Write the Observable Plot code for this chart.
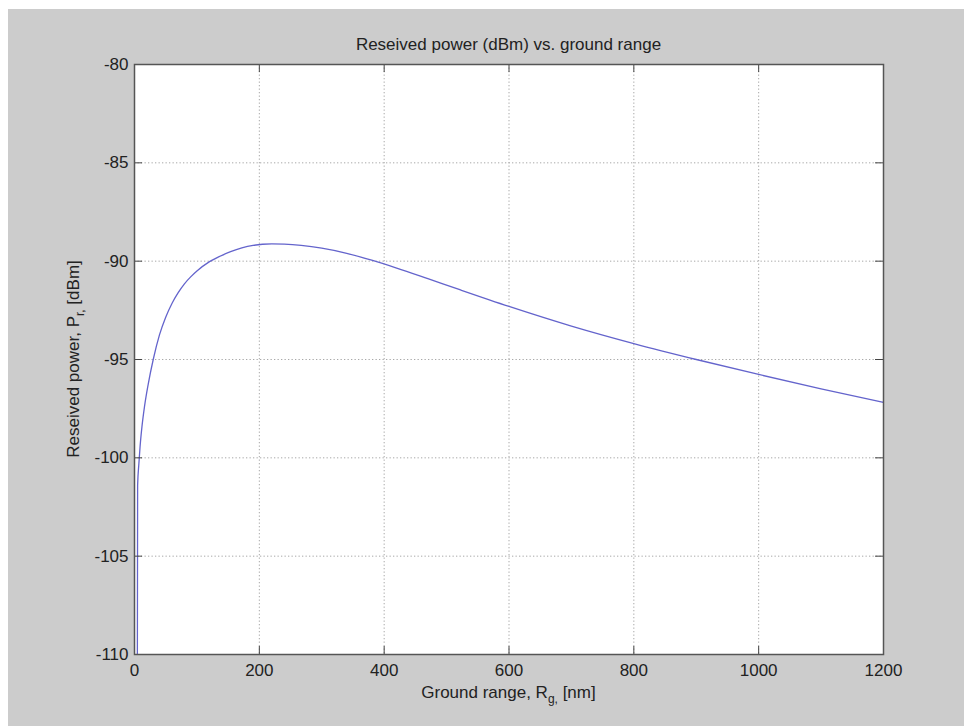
<!DOCTYPE html>
<html>
<head>
<meta charset="utf-8">
<script src="https://cdn.jsdelivr.net/npm/d3@7"></script>
<script src="https://cdn.jsdelivr.net/npm/@observablehq/plot@0.6"></script>
<style>
  html, body { margin: 0; padding: 0; background: #ffffff; }
  #chart { position: absolute; left: 8px; top: 9px; }
</style>
</head>
<body>
<div id="chart"></div>
<script>
const titleText = "Reseived power (dBm) vs. ground range";
const xTicks = [0, 200, 400, 600, 800, 1000, 1200];
const yTicks = [-110, -105, -100, -95, -90, -85, -80];
const groundRange = [4.5, 5, 7, 9, 12, 16, 22, 30, 40, 50, 60, 70, 80, 90, 100, 119, 137, 154, 172, 190, 205, 220, 240, 267, 300, 340, 380, 420, 470, 520, 600, 700, 800, 900, 1000, 1100, 1200];
const powerDbm = [-112, -101.4, -100.3, -99.4, -98.4, -97.4, -96.25, -95.0, -93.75, -92.85, -92.15, -91.6, -91.15, -90.8, -90.5, -90.05, -89.75, -89.52, -89.33, -89.2, -89.14, -89.12, -89.135, -89.2, -89.34, -89.6, -89.95, -90.35, -90.89, -91.44, -92.3, -93.3, -94.19, -95.0, -95.76, -96.49, -97.18];

const data = groundRange.map((g, i) => ({g, p: powerDbm[i]}));

const W = 956, H = 717;
const mL = 126, mR = 81, mT = 55, mB = 72;
const innerW = W - mL - mR, innerH = H - mT - mB;
const tick = 8;
const font = "'Liberation Sans', Arial, Helvetica, sans-serif";
const fmt = d => String(d);

const plot = Plot.plot({
  width: W, height: H,
  marginLeft: mL, marginRight: mR, marginTop: mT, marginBottom: mB,
  style: {background: "#cccccc", fontFamily: font, fontSize: "17px", color: "#222"},
  x: {domain: [0, 1200], ticks: xTicks, label: null},
  y: {domain: [-110, -80], ticks: yTicks, label: null},
  marks: [
    Plot.frame({fill: "white", stroke: null}),
    Plot.gridX(xTicks.slice(1, -1), {stroke: "#a8a8a8", strokeOpacity: 1, strokeDasharray: "1.3,2.2"}),
    Plot.gridY(yTicks.slice(1, -1), {stroke: "#a8a8a8", strokeOpacity: 1, strokeDasharray: "1.3,2.2"}),
    Plot.line(data, {x: "g", y: "p", stroke: "#6464cc", strokeWidth: 1.3, curve: "monotone-x", clip: true}),
    Plot.tickX(xTicks, {x: d => d, stroke: "#444", insetTop: innerH - tick}),
    Plot.tickX(xTicks, {x: d => d, stroke: "#444", insetBottom: innerH - tick}),
    Plot.tickY(yTicks, {y: d => d, stroke: "#444", insetRight: innerW - tick}),
    Plot.tickY(yTicks, {y: d => d, stroke: "#444", insetLeft: innerW - tick}),
    Plot.frame({stroke: "#555", strokeWidth: 1.5}),
    Plot.axisX(xTicks, {tickSize: 0, tickPadding: 9, fontSize: 17, tickFormat: fmt}),
    Plot.axisY(yTicks, {tickSize: 0, tickPadding: 6, fontSize: 17, tickFormat: fmt})
  ]
});

const svg = d3.select(plot);
const cx = mL + innerW / 2, cy = mT + innerH / 2;

svg.append("text")
  .attr("x", cx).attr("y", 37)
  .attr("text-anchor", "middle").attr("dominant-baseline", "middle")
  .attr("font-family", font).attr("font-size", 17).attr("fill", "#222")
  .text(titleText);

const xl = svg.append("text")
  .attr("x", cx).attr("y", 689)
  .attr("text-anchor", "middle")
  .attr("font-family", font).attr("font-size", 17).attr("fill", "#222");
xl.append("tspan").text("Ground range, R");
xl.append("tspan").attr("dy", 5).attr("font-size", 12).text("g,");
xl.append("tspan").attr("dy", -5).text(" [nm]");

const yl = svg.append("text")
  .attr("transform", `translate(71,${cy}) rotate(-90)`)
  .attr("text-anchor", "middle")
  .attr("font-family", font).attr("font-size", 17).attr("fill", "#222");
yl.append("tspan").text("Reseived power, P");
yl.append("tspan").attr("dy", 5).attr("font-size", 12).text("r,");
yl.append("tspan").attr("dy", -5).text(" [dBm]");

document.getElementById("chart").appendChild(plot);
</script>
</body>
</html>
